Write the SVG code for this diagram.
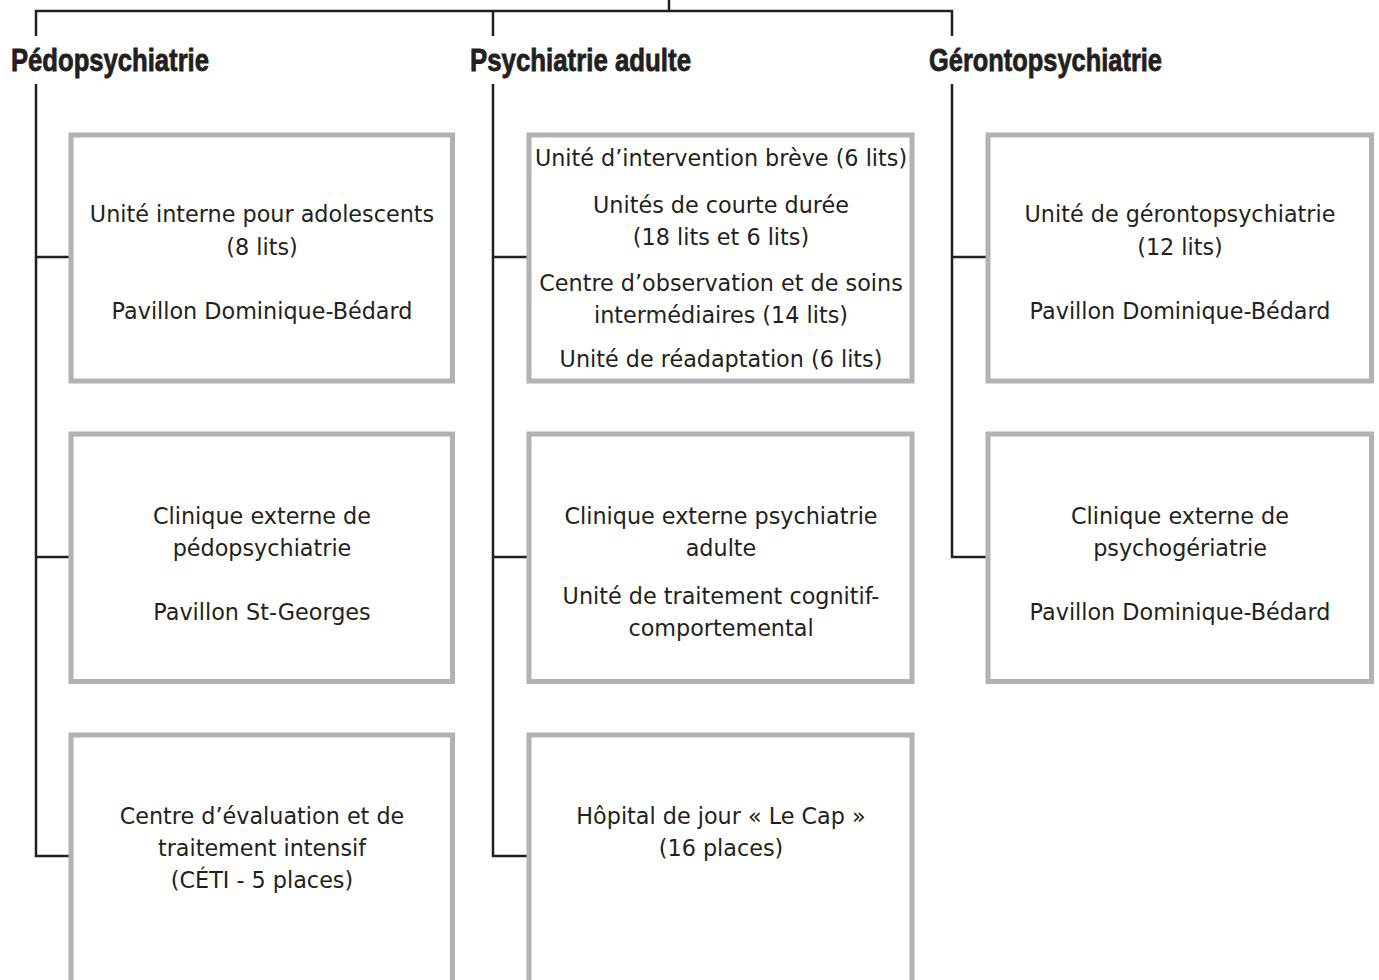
<svg xmlns="http://www.w3.org/2000/svg" width="1379" height="980" viewBox="0 0 1379 980">
<style>
.box{fill:#fff;stroke:#b1b2b5;stroke-width:5}
.con{fill:none;stroke:#231f20;stroke-width:2.5}
.t{font-family:"DejaVu Sans","Liberation Sans",sans-serif;font-size:22.3px;fill:#231f20;text-anchor:middle}
.h{font-family:"Liberation Sans",Arial,sans-serif;font-weight:bold;font-size:31px;fill:#231f20;stroke:#231f20;stroke-width:0.8}
</style>
<rect width="1379" height="980" fill="#fff"/>
<g id="connectors">
<path class="con" d="M669,0V11M36,36V11H952V36M493,11V36"/>
<path class="con" d="M36,84V856H71M36,257H71M36,557H71"/>
<path class="con" d="M493,84V856H529M493,257H529M493,557H529"/>
<path class="con" d="M952,84V557H988M952,257H988"/>
</g>
<g id="h-pedo"><text class="h" x="11" y="71" textLength="198" lengthAdjust="spacingAndGlyphs">Pédopsychiatrie</text></g>
<g id="h-adulte"><text class="h" x="470" y="71" textLength="221" lengthAdjust="spacingAndGlyphs">Psychiatrie adulte</text></g>
<g id="h-geronto"><text class="h" x="929" y="71" textLength="233" lengthAdjust="spacingAndGlyphs">Gérontopsychiatrie</text></g>

<g id="n-pedo1"><rect class="box" x="71" y="135" width="381.5" height="246"/>
<text class="t" x="262" y="222">Unité interne pour adolescents</text>
<text class="t" x="262" y="255">(8 lits)</text>
<text class="t" x="262" y="319">Pavillon Dominique-Bédard</text></g>
<g id="n-pedo2"><rect class="box" x="71" y="434" width="381.5" height="247.5"/>
<text class="t" x="262" y="524">Clinique externe de</text>
<text class="t" x="262" y="556">pédopsychiatrie</text>
<text class="t" x="262" y="620">Pavillon St-Georges</text></g>
<g id="n-pedo3"><rect class="box" x="71" y="735" width="381.5" height="260"/>
<text class="t" x="262" y="824">Centre d’évaluation et de</text>
<text class="t" x="262" y="856">traitement intensif</text>
<text class="t" x="262" y="888">(CÉTI - 5 places)</text></g>

<g id="n-adulte1"><rect class="box" x="529" y="135" width="383" height="246"/>
<text class="t" x="721" y="166">Unité d’intervention brève (6 lits)</text>
<text class="t" x="721" y="213">Unités de courte durée</text>
<text class="t" x="721" y="245">(18 lits et 6 lits)</text>
<text class="t" x="721" y="291">Centre d’observation et de soins</text>
<text class="t" x="721" y="323">intermédiaires (14 lits)</text>
<text class="t" x="721" y="367">Unité de réadaptation (6 lits)</text></g>
<g id="n-adulte2"><rect class="box" x="529" y="434" width="383" height="247.5"/>
<text class="t" x="721" y="524">Clinique externe psychiatrie</text>
<text class="t" x="721" y="556">adulte</text>
<text class="t" x="721" y="604">Unité de traitement cognitif-</text>
<text class="t" x="721" y="636">comportemental</text></g>
<g id="n-adulte3"><rect class="box" x="529" y="735" width="383" height="260"/>
<text class="t" x="721" y="824">Hôpital de jour « Le Cap »</text>
<text class="t" x="721" y="856">(16 places)</text></g>

<g id="n-geronto1"><rect class="box" x="988" y="135" width="383.5" height="246"/>
<text class="t" x="1180" y="222">Unité de gérontopsychiatrie</text>
<text class="t" x="1180" y="255">(12 lits)</text>
<text class="t" x="1180" y="319">Pavillon Dominique-Bédard</text></g>
<g id="n-geronto2"><rect class="box" x="988" y="434" width="383.5" height="247.5"/>
<text class="t" x="1180" y="524">Clinique externe de</text>
<text class="t" x="1180" y="556">psychogériatrie</text>
<text class="t" x="1180" y="620">Pavillon Dominique-Bédard</text></g>
</svg>
